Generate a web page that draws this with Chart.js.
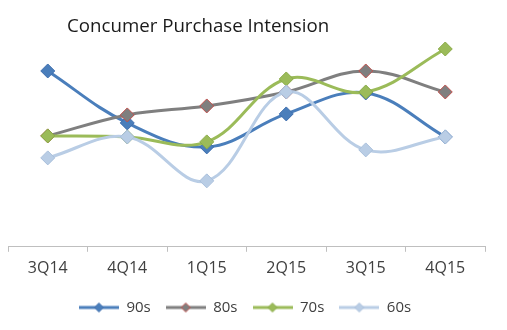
<!DOCTYPE html>
<html>
<head>
<meta charset="utf-8">
<script src="https://cdn.jsdelivr.net/npm/chart.js@4.4.0/dist/chart.umd.min.js"></script>
<style>
  html, body { margin: 0; padding: 0; background: #fff; }
  canvas { display: block; }
</style>
</head>
<body>
<canvas id="chart" width="507" height="330"></canvas>
<script>
const quarters = ['3Q14', '4Q14', '1Q15', '2Q15', '3Q15', '4Q15']
const series90s = [8.8, 6.2, 5.0, 6.65, 7.7, 5.5]
const series80s = [5.55, 6.6, 7.05, 7.75, 8.8, 7.75]
const series70s = [5.55, 5.5, 5.25, 8.4, 7.75, 9.9]
const series60s = [4.45, 5.5, 3.3, 7.75, 4.85, 5.5]
const chartTitle = 'Concumer Purchase Intension'

const FONT = "'Open Sans', 'Liberation Sans', sans-serif"

// legend swatch: short line with a diamond in the middle, like Excel
function legendIcon(color, fill, border) {
  const c = document.createElement('canvas')
  c.width = 40
  c.height = 12
  const ctx = c.getContext('2d')
  ctx.strokeStyle = color
  ctx.lineWidth = 3
  ctx.beginPath()
  ctx.moveTo(0, 6)
  ctx.lineTo(40, 6)
  ctx.stroke()
  ctx.fillStyle = fill
  ctx.strokeStyle = border
  ctx.lineWidth = 1
  ctx.beginPath()
  ctx.moveTo(20, 1.5)
  ctx.lineTo(24.5, 6)
  ctx.lineTo(20, 10.5)
  ctx.lineTo(15.5, 6)
  ctx.closePath()
  ctx.fill()
  ctx.stroke()
  return c
}

function makeSeries(label, data, line, fill, border, order) {
  return {
    label,
    data,
    borderColor: line,
    borderWidth: 3,
    backgroundColor: fill,
    pointStyle: 'rectRot',
    pointRadius: 7,
    pointHoverRadius: 7,
    pointBackgroundColor: fill,
    pointBorderColor: border,
    pointBorderWidth: 1,
    tension: 0.38,
    fill: false,
    clip: false,
    order,
    legendIcon: legendIcon(line, fill, border)
  }
}

const titlePlugin = {
  id: 'leftTitle',
  afterDraw(chart) {
    const ctx = chart.ctx
    ctx.save()
    ctx.font = '18.7px ' + FONT
    ctx.fillStyle = '#1a1a1a'
    ctx.textBaseline = 'middle'
    ctx.textAlign = 'left'
    ctx.fillText(chartTitle, 67, 27)
    ctx.restore()
  }
}

new Chart(document.getElementById('chart'), {
  type: 'line',
  data: {
    labels: quarters,
    datasets: [
      makeSeries('90s', series90s, '#4a7ebb', '#4a7ebb', '#3f6fae', 4),
      makeSeries('80s', series80s, '#7f7f7f', '#7f7f7f', '#c0504d', 3),
      makeSeries('70s', series70s, '#9bbb59', '#9bbb59', '#8aab48', 2),
      makeSeries('60s', series60s, '#b9cde5', '#b9cde5', '#a9bfdb', 1)
    ]
  },
  options: {
    responsive: false,
    animation: false,
    layout: {
      padding: { top: 47, left: 5, right: 22, bottom: 5 }
    },
    scales: {
      x: {
        offset: true,
        grid: {
          offset: true,
          drawOnChartArea: false,
          drawTicks: true,
          tickLength: 5,
          color: '#bfbfbf'
        },
        border: { color: '#bfbfbf', width: 1 },
        ticks: {
          color: '#404040',
          padding: 7,
          font: { family: FONT, size: 16 }
        }
      },
      y: {
        display: false,
        min: 0,
        max: 10
      }
    },
    plugins: {
      title: { display: false },
      tooltip: { enabled: false },
      legend: {
        position: 'bottom',
        labels: {
          usePointStyle: true,
          pointStyleWidth: 40,
          padding: 15,
          color: '#404040',
          font: { family: FONT, size: 15 },
          sort: (a, b) => a.datasetIndex - b.datasetIndex,
          generateLabels(chart) {
            return chart.data.datasets.map((ds, i) => ({
              text: ds.label,
              datasetIndex: i,
              pointStyle: ds.legendIcon,
              fillStyle: ds.backgroundColor,
              strokeStyle: ds.borderColor,
              lineWidth: 0,
              fontColor: '#404040',
              hidden: false
            }))
          }
        }
      }
    }
  },
  plugins: [titlePlugin]
})
</script>
</body>
</html>
